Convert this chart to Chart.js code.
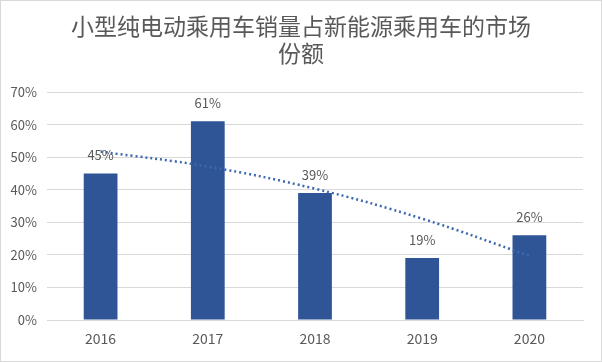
<!DOCTYPE html>
<html>
<head>
<meta charset="utf-8">
<script src="https://cdn.jsdelivr.net/npm/chart.js@4/dist/chart.umd.min.js"></script>
<style>
  html, body { margin: 0; padding: 0; background: #fff; }
  #wrap { width: 600px; height: 360px; border: 1px solid #d9d9d9; position: relative; }
</style>
</head>
<body>
<div id="wrap"><canvas id="mychart" width="600" height="360"></canvas></div>
<script>
let years = ['2016', '2017', '2018', '2019', '2020'];
let share = [45, 61, 39, 19, 26];
// dotted polynomial trend line
let trend = [51.7, 47.1, 40.3, 31.1, 19.7];
let titleLines = ['小型纯电动乘用车销量占新能源乘用车的市场', '份额'];

let txtColor = '#595959';
let font = "'Noto Sans CJK SC', 'Noto Sans', sans-serif";

// value labels above bars + centred title over the whole canvas
let extras = {
    id: 'extras',
    afterDatasetsDraw(chart) {
        let c = chart.ctx;
        let meta = chart.getDatasetMeta(0);
        c.save();
        c.font = '13px ' + font;
        c.fillStyle = txtColor;
        c.textAlign = 'center';
        c.textBaseline = 'middle';
        meta.data.forEach((bar, i) => {
            c.fillText(share[i] + '%', bar.x, bar.y - 18);
        });
        c.font = '23px ' + font;
        titleLines.forEach((t, i) => {
            c.fillText(t, chart.width / 2, 25 + i * 27);
        });
        c.restore();
    }
};

let ctx = document.querySelector('#mychart').getContext('2d');
let myChart = new Chart(ctx, {
    type: 'bar',
    data: {
        labels: years,
        datasets: [{
            type: 'bar',
            data: share,
            backgroundColor: '#2F5597',
            barPercentage: 0.315,
            categoryPercentage: 1,
            order: 2
        }, {
            type: 'line',
            data: trend,
            borderColor: '#3D68B0',
            borderWidth: 2.5,
            borderDash: [2, 3],
            pointRadius: 0,
            tension: 0.4,
            fill: false,
            order: 1
        }]
    },
    options: {
        responsive: false,
        animation: false,
        layout: { padding: { left: 0, right: 18, top: 91, bottom: 0 } },
        scales: {
            x: {
                afterFit(scale) { scale.height = 41; },
                grid: { display: false, drawTicks: false },
                border: { color: '#d9d9d9' },
                ticks: { color: txtColor, font: { family: font, size: 14 }, padding: 10 }
            },
            y: {
                min: 0,
                max: 70,
                afterFit(scale) { scale.width = 46; },
                grid: { color: '#d9d9d9', drawTicks: false },
                border: { display: false },
                ticks: {
                    stepSize: 10,
                    padding: 10,
                    color: txtColor,
                    font: { family: font, size: 13 },
                    callback: v => v + '%'
                }
            }
        },
        plugins: {
            legend: { display: false },
            tooltip: { enabled: false },
            title: { display: false }
        }
    },
    plugins: [extras]
});
</script>
</body>
</html>
